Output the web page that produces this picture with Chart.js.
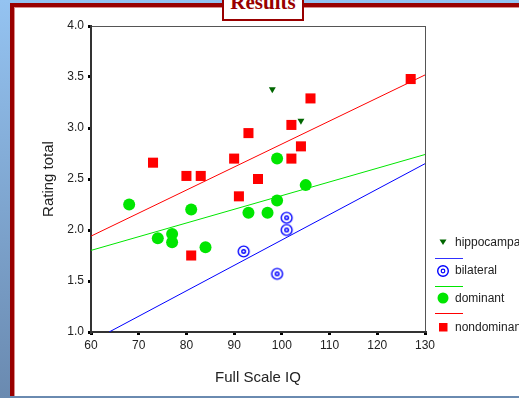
<!DOCTYPE html>
<html>
<head>
<meta charset="utf-8">
<script src="https://cdn.jsdelivr.net/npm/chart.js@4.4.0/dist/chart.umd.min.js"></script>
<style>
  html, body { margin: 0; padding: 0; }
  body {
    width: 519px; height: 398px; overflow: hidden; position: relative;
    background: linear-gradient(#94c3f1, #6a8ab0);
    font-family: "Liberation Sans", Arial, sans-serif;
  }
  #panel {
    position: absolute; left: 10px; top: 3px; width: 600px; height: 389px;
    background: #fff;
    border-left: 4px solid #990000; border-top: 4px solid #990000;
    box-shadow: inset 1px 1px 0 #d98c8c;
  }
  #title {
    position: absolute; left: 222px; top: -6px; width: 78px; height: 23px;
    border: 2px solid #990000; background: #fff; overflow: hidden;
    color: #990000; font: bold 21px "Liberation Serif", "Times New Roman", serif;
    text-align: center; line-height: 12px;
  }
  #chart { position: absolute; left: 0; top: 0; }
  .lg { position: absolute; font-size: 12px; color: #222; white-space: nowrap; }
</style>
</head>
<body>
<div id="panel"></div>
<canvas id="chart" width="519" height="398"></canvas>
<div id="title">Results</div>

<svg style="position:absolute;left:0;top:0" width="519" height="398">
  <polygon points="439.5,239.5 446.5,239.5 443,245" fill="#006600"/>
  <rect x="435" y="258" width="28" height="1" fill="#3030ff"/>
  <circle cx="443" cy="271" r="5.3" fill="none" stroke="#0000ff" stroke-width="1.4"/>
  <circle cx="443" cy="271" r="1.8" fill="none" stroke="#0000ff" stroke-width="1.2"/>
  <rect x="435" y="286" width="28" height="1" fill="#00e600"/>
  <circle cx="443" cy="298" r="5.5" fill="#00e600"/>
  <rect x="435" y="313" width="28" height="1" fill="#ff0000"/>
  <rect x="439" y="323" width="8.5" height="8.5" fill="#ff0000"/>
</svg>
<div class="lg" style="left:455px;top:235px">hippocampal</div>
<div class="lg" style="left:455px;top:263px">bilateral</div>
<div class="lg" style="left:455px;top:291px">dominant</div>
<div class="lg" style="left:455px;top:320px">nondominant</div>

<script>
// scatter values (Full Scale IQ, Rating total)
const hippoIQ = [98, 104];
const hippoRating = [3.38, 3.07];

const bilatIQ = [92, 99, 101, 101];
const bilatRating = [1.79, 1.57, 2.12, 2.00];

const domIQ = [68, 74, 77, 77, 81, 84, 93, 97, 99, 99, 105];
const domRating = [2.25, 1.92, 1.96, 1.88, 2.20, 1.83, 2.17, 2.17, 2.29, 2.70, 2.44];

const nondomIQ = [73, 80, 81, 83, 90, 91, 93, 95, 102, 102, 104, 106, 127];
const nondomRating = [2.66, 2.53, 1.75, 2.53, 2.70, 2.33, 2.95, 2.50, 3.03, 2.70, 2.82, 3.29, 3.48];

// fit line end points
const fitIQ = [60, 130];
const bilatFitIQ = [63.8, 130];
const bilatFit = [1.0, 2.65];
const domFit = [1.80, 2.74];
const nondomFit = [1.94, 3.52];

const xTicks = [60, 70, 80, 90, 100, 110, 120, 130];
const yTicks = [1.0, 1.5, 2.0, 2.5, 3.0, 3.5, 4.0];

const pts = (xs, ys) => xs.map((x, i) => ({ x: x, y: ys[i] }));

// double circle marker for bilateral
const ring = document.createElement('canvas');
ring.width = 15; ring.height = 15;
const rc = ring.getContext('2d');
rc.strokeStyle = '#0000ff';
rc.lineWidth = 1.4;
rc.beginPath(); rc.arc(7.5, 7.5, 5.4, 0, 2 * Math.PI); rc.stroke();
rc.beginPath(); rc.arc(7.5, 7.5, 1.8, 0, 2 * Math.PI); rc.stroke();

const frame = {
  id: 'frame',
  beforeDraw(chart) {
    const a = chart.chartArea, c = chart.ctx;
    c.save();
    c.strokeStyle = '#555';
    c.lineWidth = 1;
    c.strokeRect(a.left + 0.5, a.top + 0.5, a.right - a.left, a.bottom - a.top);
    c.restore();
  }
};

const fitLine = (xs, ys, color) => ({
  type: 'line',
  data: pts(xs, ys),
  borderColor: color,
  borderWidth: 1,
  pointRadius: 0,
  showLine: true,
  fill: false,
  order: 5
});

new Chart(document.getElementById('chart'), {
  type: 'scatter',
  data: {
    datasets: [
      fitLine(bilatFitIQ, bilatFit, '#0000ff'),
      fitLine(fitIQ, domFit, '#00e600'),
      fitLine(fitIQ, nondomFit, '#ff0000'),
      {
        data: pts(nondomIQ, nondomRating),
        pointStyle: 'rect', pointRadius: 7.1,
        backgroundColor: '#ff0000', borderWidth: 0, order: 1
      },
      {
        data: pts(domIQ, domRating),
        pointStyle: 'circle', pointRadius: 6,
        backgroundColor: '#00e600', borderWidth: 0, order: 1
      },
      {
        data: pts(bilatIQ, bilatRating),
        pointStyle: ring, order: 1
      },
      {
        data: pts(hippoIQ, hippoRating),
        pointStyle: 'triangle', rotation: 180, pointRadius: 4,
        backgroundColor: '#006600', borderWidth: 0, order: 1
      }
    ]
  },
  options: {
    responsive: false,
    animation: false,
    devicePixelRatio: 1,
    layout: { padding: { left: 0, top: 26, right: 94, bottom: 0 } },
    plugins: { legend: { display: false }, tooltip: { enabled: false } },
    scales: {
      x: {
        type: 'linear', min: 60, max: 130,
        afterFit: s => { s.height = 66; },
        afterBuildTicks: s => { s.ticks = xTicks.map(v => ({ value: v })); },
        ticks: { color: '#222', padding: 3, font: { size: 12, family: 'Liberation Sans' } },
        grid: { display: true, drawOnChartArea: false, drawTicks: true, tickLength: 3, lineWidth: 3, color: '#000' },
        border: { display: true, color: '#333', width: 2 },
        title: {
          display: true, text: 'Full Scale IQ', color: '#222',
          font: { size: 15, family: 'Liberation Sans' }, padding: { top: 0, bottom: 11 }
        }
      },
      y: {
        type: 'linear', min: 1, max: 4,
        afterFit: s => { s.width = 91; },
        afterBuildTicks: s => { s.ticks = yTicks.map(v => ({ value: v })); },
        ticks: {
          color: '#222', padding: 4, font: { size: 12, family: 'Liberation Sans' },
          callback: v => v.toFixed(1)
        },
        grid: { display: true, drawOnChartArea: false, drawTicks: true, tickLength: 3, lineWidth: 3, color: '#000' },
        border: { display: true, color: '#333', width: 2 },
        title: {
          display: true, text: 'Rating total', color: '#222',
          font: { size: 15, family: 'Liberation Sans' }, padding: { top: 40, bottom: 0 }
        }
      }
    }
  },
  plugins: [frame]
});
</script>
</body>
</html>
